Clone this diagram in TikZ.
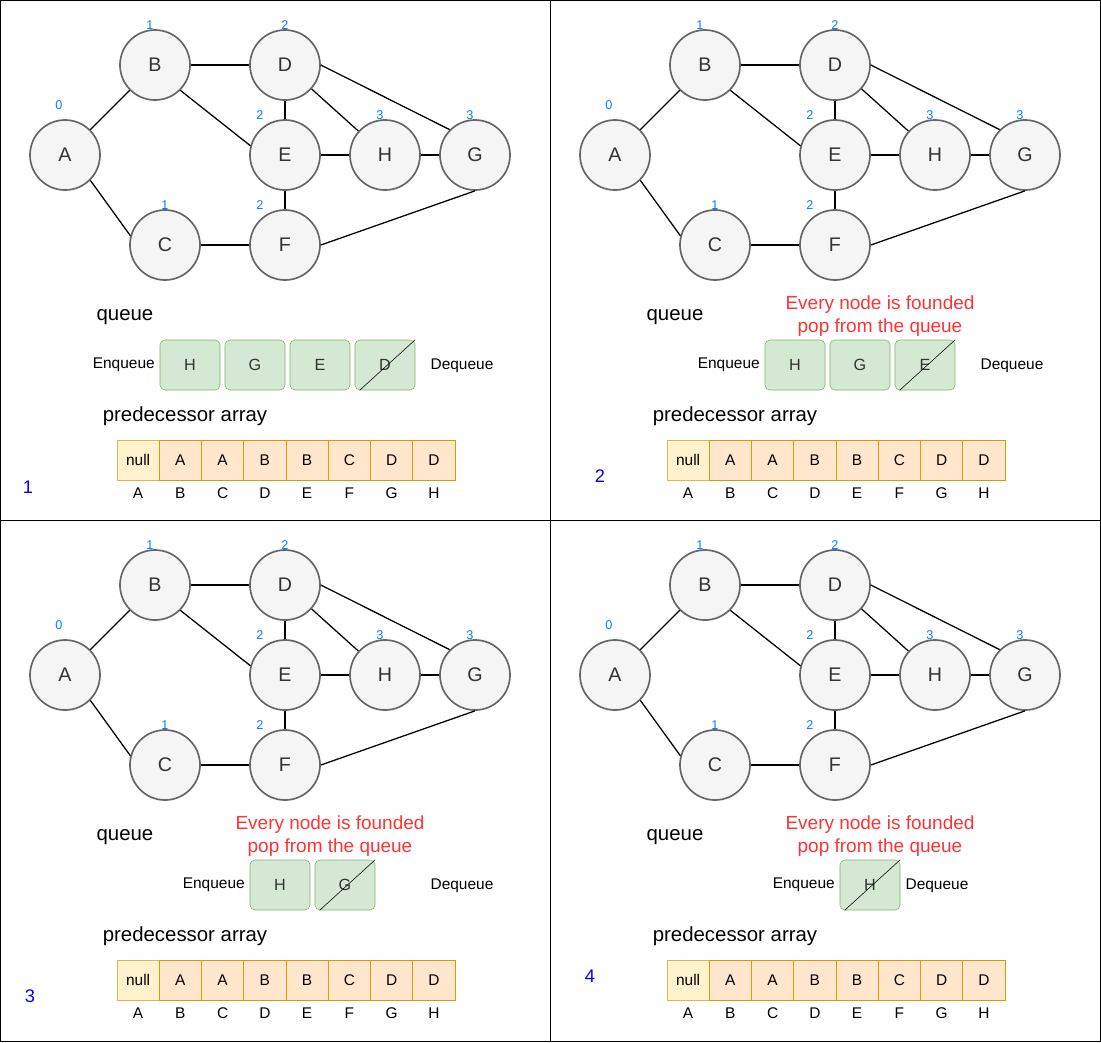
\documentclass[tikz,border=0pt]{standalone}
\usepackage{fontspec}
\setmainfont{Liberation Sans}
\usetikzlibrary{positioning}
\definecolor{nodefill}{HTML}{F5F5F5}
\definecolor{nodeline}{HTML}{666666}
\definecolor{nodetext}{HTML}{333333}
\definecolor{qfill}{HTML}{D5E8D4}
\definecolor{qline}{HTML}{82B366}
\definecolor{nullfill}{HTML}{FFF2CC}
\definecolor{nullline}{HTML}{D6B656}
\definecolor{cellfill}{HTML}{FFE6CC}
\definecolor{cellline}{HTML}{D79B00}
\definecolor{lvlblue}{HTML}{007FFF}
\definecolor{redtxt}{HTML}{FF3333}
\begin{document}
\begin{tikzpicture}[
    x=0.025cm, y=-0.025cm,
    vertex/.style={circle, draw=nodeline, fill=nodefill, line width=1.2pt, minimum size=1.75cm, inner sep=0pt, text=nodetext, font=\fontsize{14}{16}\selectfont},
    level/.style={text=lvlblue, inner sep=0pt, font=\fontsize{9}{10}\selectfont},
    edge/.style={line width=0.9pt},
    qbox/.style={rectangle, rounded corners=3.5pt, draw=qline, fill=qfill, minimum width=1.5cm, minimum height=1.25cm, text=nodetext, font=\fontsize{11.5}{13}\selectfont},
    cell/.style={rectangle, draw=cellline, fill=cellfill, minimum width=1.056cm, minimum height=1cm, inner sep=0pt, font=\fontsize{11}{12}\selectfont},
    nullcell/.style={cell, draw=nullline, fill=nullfill},
    caption/.style={font=\fontsize{14.5}{16}\selectfont},
    side/.style={font=\fontsize{11}{12}\selectfont},
    note/.style={text=redtxt, align=center, font=\fontsize{13.5}{16.5}\selectfont},
    panelnum/.style={text=blue, font=\fontsize{13}{15}\selectfont}
]
\useasboundingbox (0,0) rectangle (1101,1042);

% Frame
\draw (0.5,0.5) rectangle (1100.5,1041.5);
\draw (550,0) -- (550,1042);
\draw (0,520) -- (1101,520);

% Graph, labels and predecessor array (same in every panel)
\foreach \ox/\oy/\k in {0/0/1, 550/0/2, 0/520/3, 550/520/4} {
\begin{scope}[shift={(\ox,\oy)}]
  \node[vertex] (A\k) at (65,155) {A};
  \node[vertex] (B\k) at (155,65) {B};
  \node[vertex] (C\k) at (165,245) {C};
  \node[vertex] (D\k) at (285,65) {D};
  \node[vertex] (E\k) at (285,155) {E};
  \node[vertex] (F\k) at (285,245) {F};
  \node[vertex] (G\k) at (475,155) {G};
  \node[vertex] (H\k) at (385,155) {H};

  \node[level] (lA\k) at (59,105) {0};
  \node[level] (lB\k) at (150,25) {1};
  \node[level] (lC\k) at (165,205) {1};
  \node[level] (lD\k) at (285,25) {2};
  \node[level] (lE\k) at (260,115) {2};
  \node[level] (lF\k) at (260,205) {2};
  \node[level] (lG\k) at (470,115) {3};
  \node[level] (lH\k) at (380,115) {3};

  \draw[edge] (A\k.north east) -- (B\k.south west);
  \draw[edge] (A\k.south east) -- (C\k.165);
  \draw[edge] (B\k.east) -- (D\k.west);
  \draw[edge] (B\k.south east) -- (E\k.165);
  \draw[edge] (D\k.south) -- (E\k.north);
  \draw[edge] (D\k) -- (H\k);
  \draw[edge] (D\k.east) -- (G\k.north west);
  \draw[edge] (E\k.east) -- (H\k.west);
  \draw[edge] (H\k.east) -- (G\k.west);
  \draw[edge] (E\k.south) -- (F\k.north);
  \draw[edge] (C\k.east) -- (F\k.west);
  \draw[edge] (F\k.east) -- (G\k.south);

  \node[caption] (qt\k) at (125,317) {queue};
  \node[caption] (pt\k) at (185,416) {predecessor array};

  \node[nullcell] (r\k-0) at (138.1,460) {null};
  \foreach \v [count=\i] in {A,A,B,B,C,D,D}
    \node[cell] (r\k-\i) at (138.1+42.25*\i,460) {\v};
  \foreach \v [count=\i from 0] in {A,B,C,D,E,F,G,H}
    \node[side] (s\k-\i) at (138.1+42.25*\i,493) {\v};
\end{scope}
}

% Panel 1
\node[qbox] (q1-1) at (190,365) {H};
\node[qbox] (q1-2) at (255,365) {G};
\node[qbox] (q1-3) at (320,365) {E};
\node[qbox] (q1-4) at (385,365) {D};
\draw ([xshift=3.5pt]q1-4.south west) -- (q1-4.north east);
\node[side, left=0pt of q1-1] (enq1) {Enqueue};
\node[side] (deq1) at (462,366) {Dequeue};
\node[panelnum] (n1) at (28,487) {1};

% Panel 2
\node[note] (note2) at (880,316) {Every node is founded\\pop from the queue};
\node[qbox] (q2-1) at (795,365) {H};
\node[qbox] (q2-2) at (860,365) {G};
\node[qbox] (q2-3) at (925,365) {E};
\draw ([xshift=3.5pt]q2-3.south west) -- (q2-3.north east);
\node[side, left=0pt of q2-1] (enq2) {Enqueue};
\node[side] (deq2) at (1012,366) {Dequeue};
\node[panelnum] (n2) at (600,476) {2};

% Panel 3
\node[note] (note3) at (330,836) {Every node is founded\\pop from the queue};
\node[qbox] (q3-1) at (280,885) {H};
\node[qbox] (q3-2) at (345,885) {G};
\draw ([xshift=3.5pt]q3-2.south west) -- (q3-2.north east);
\node[side, left=0pt of q3-1] (enq3) {Enqueue};
\node[side] (deq3) at (462,886) {Dequeue};
\node[panelnum] (n3) at (30,996) {3};

% Panel 4
\node[note] (note4) at (880,836) {Every node is founded\\pop from the queue};
\node[qbox] (q4-1) at (870,885) {H};
\draw ([xshift=3.5pt]q4-1.south west) -- (q4-1.north east);
\node[side, left=0pt of q4-1] (enq4) {Enqueue};
\node[side] (deq4) at (937,886) {Dequeue};
\node[panelnum] (n4) at (590,976) {4};

\end{tikzpicture}
\end{document}
